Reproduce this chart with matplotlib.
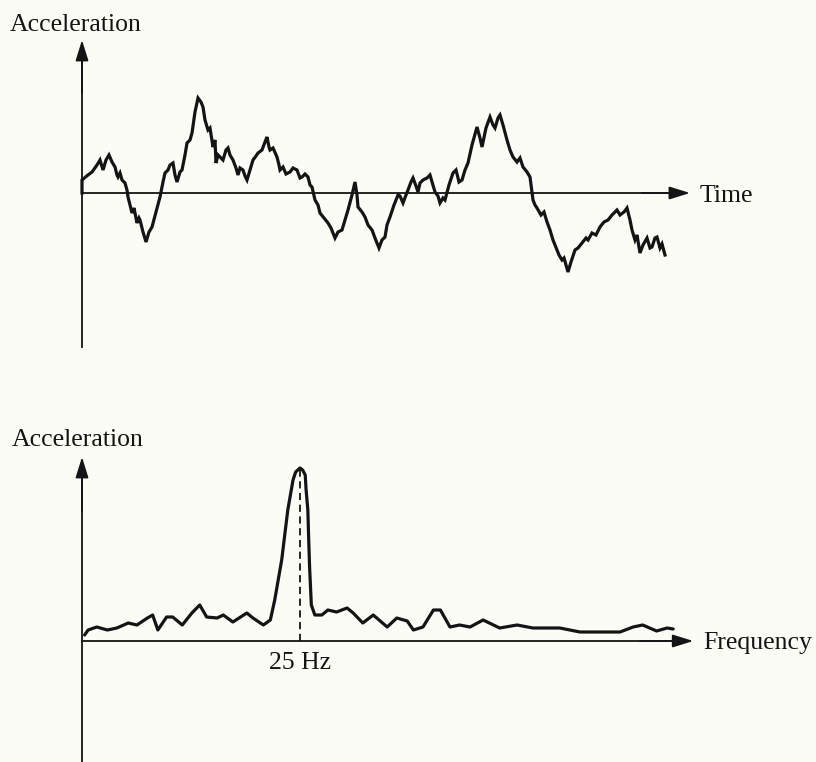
import numpy as np
import matplotlib
matplotlib.use('Agg')
import matplotlib.pyplot as plt

# =======================================
# Data
# =======================================

# --- time record (arbitrary units)
time = [0, 0, 6, 10, 15, 18, 21, 24, 27, 30, 33, 35, 36, 38, 40, 43, 45, 46, 48, 50,
        52, 55, 57, 58, 61, 64, 67, 70, 74, 78, 81, 83, 86, 88, 91, 93, 95, 98, 100, 103,
        105, 108, 110, 113, 116, 119, 121, 123, 126, 128, 131, 133, 134, 136, 138, 141, 144, 146, 148, 151,
        154, 156, 158, 161, 163, 165, 168, 171, 174, 176, 180, 183, 185, 187, 188, 191, 195, 197, 198, 201,
        204, 208, 211, 215, 218, 220, 223, 226, 228, 230, 233, 236, 238, 242, 246, 249, 253, 256, 260, 263,
        266, 270, 273, 275, 276, 280, 283, 286, 290, 293, 297, 300, 303, 305, 308, 312, 316, 318, 321, 324,
        326, 329, 331, 334, 336, 338, 341, 345, 348, 351, 353, 356, 358, 361, 363, 367, 371, 374, 377, 380,
        383, 386, 390, 395, 398, 400, 404, 408, 411, 413, 416, 418, 421, 425, 428, 431, 435, 438, 441, 445,
        448, 451, 453, 455, 459, 462, 465, 468, 471, 475, 477, 480, 482, 486, 489, 493, 496, 500, 504, 506,
        510, 514, 518, 522, 526, 530, 535, 538, 542, 545, 548, 550, 553, 555, 558, 561, 565, 568, 570, 573,
        575, 578, 580, 583]
acc_time = [0, 13, 18, 21, 28, 33, 23, 33, 38, 31, 26, 18, 16, 20, 13, 10, 3, -4, -12, -20,
            -15, -30, -25, -27, -39, -49, -39, -34, -19, -4, 11, 20, 23, 28, 30, 18, 11, 21, 23, 38,
            50, 53, 60, 81, 95, 91, 86, 73, 63, 65, 46, 53, 30, 38, 36, 33, 43, 45, 38, 33,
            25, 18, 25, 23, 17, 13, 23, 33, 37, 40, 43, 51, 56, 46, 43, 45, 36, 28, 23, 26,
            19, 21, 25, 23, 15, 16, 19, 16, 8, 6, -7, -12, -20, -25, -30, -35, -45, -39, -37, -27,
            -17, -2, 11, -2, -14, -19, -24, -32, -37, -45, -55, -47, -44, -32, -24, -12, -2, -3, -10, -2,
            3, 11, 15, 7, 1, 10, 13, 15, 18, 8, 1, -3, -10, -5, -7, 8, 20, 23, 11, 13,
            23, 30, 48, 66, 55, 46, 65, 76, 68, 65, 75, 78, 68, 53, 43, 36, 31, 35, 26, 21,
            16, -7, -12, -15, -22, -19, -29, -37, -47, -57, -62, -67, -65, -79, -69, -57, -55, -50, -45, -47,
            -40, -42, -34, -29, -27, -22, -17, -22, -19, -15, -27, -37, -47, -42, -60, -52, -45, -55, -54, -45,
            -44, -55, -51, -62]

# --- spectrum (Hz)
freq = [0.3, 0.7, 1.7, 2.9, 4.0, 5.3, 6.3, 7.5, 8.1, 8.7, 9.7, 10.4, 11.5, 12.6, 13.5, 14.3,
        15.5, 16.2, 17.3, 18.9, 19.6, 20.8, 21.6, 22.1, 22.9, 23.6, 23.9, 24.2, 24.5, 25.0,
        25.3, 25.6, 25.7, 25.9, 26.0, 26.1, 26.3, 26.7, 27.5, 28.2, 29.2, 30.4, 31.1, 32.2,
        33.4, 35.0, 36.1, 37.3, 38.0, 39.1, 40.3, 41.1, 42.2, 43.3, 44.5, 46.0, 47.9, 49.9,
        51.7, 54.8, 57.1, 59.4, 61.7, 63.2, 64.3, 65.9, 67.1, 67.8]
acc_freq = [6, 11, 14, 11, 13, 18, 16, 23, 26, 11, 24, 24, 16, 28, 36, 24,
            23, 26, 19, 28, 23, 16, 21, 41, 81, 131, 146, 161, 169, 173,
            171, 166, 151, 131, 101, 74, 36, 26, 26, 31, 29, 33, 28, 18,
            26, 14, 23, 20, 11, 14, 31, 31, 14, 16, 14, 21, 13, 16,
            13, 13, 9, 9, 9, 14, 16, 10, 13, 12]

peak_freq = 25
peak_label = '25 Hz'

# =======================================
# Style
# =======================================
BG = '#fcfcf6'
INK = '#141414'
plt.rcParams['font.family'] = ['Liberation Serif', 'DejaVu Serif']
FS = 18.5

fig = plt.figure(figsize=(8.16, 7.62), dpi=100, facecolor=BG)

arrow_kw = dict(arrowstyle='-|>,head_length=0.9,head_width=0.28', color=INK,
                lw=1.3, shrinkA=0, shrinkB=0, mutation_scale=14)

# ------ top: acceleration vs time
ax1 = fig.add_axes([0, 0.5, 1, 0.5])
ax1.set_xlim(-82, 734)
ax1.set_ylim(-188, 193)
ax1.axis('off')

ax1.plot([0, 0], [-154, 140], color=INK, lw=1.3)
ax1.annotate('', xy=(0, 153), xytext=(0, 100), arrowprops=arrow_kw)
ax1.plot([0, 595], [0, 0], color=INK, lw=1.3)
ax1.annotate('', xy=(608, 0), xytext=(560, 0), arrowprops=arrow_kw)
ax1.plot(time, acc_time, color=INK, lw=2.3, solid_joinstyle='miter', zorder=3)

ax1.text(-72, 168, 'Acceleration', fontsize=FS, color=INK, ha='left', va='center')
ax1.text(618, -3, 'Time', fontsize=FS, color=INK, ha='left', va='center')

# ------ bottom: acceleration vs frequency
ax2 = fig.add_axes([0, 0, 1, 0.5])
ax2.set_xlim(-82 / 8.72, 734 / 8.72)
ax2.set_ylim(-121, 260)
ax2.axis('off')

ax2.plot([0, 0], [-121, 170], color=INK, lw=1.3)
ax2.annotate('', xy=(0, 184), xytext=(0, 130), arrowprops=arrow_kw)
ax2.plot([0, 68.5], [0, 0], color=INK, lw=1.3)
ax2.annotate('', xy=(70.1, 0), xytext=(64, 0), arrowprops=arrow_kw)
ax2.plot(freq, acc_freq, color=INK, lw=2.3, solid_joinstyle='round',
         solid_capstyle='round', zorder=3)
ax2.vlines(peak_freq, 0, max(acc_freq), color=INK, lw=1.3, linestyles=(0, (4, 2.5)))

ax2.text(-8.0, 201, 'Acceleration', fontsize=FS, color=INK, ha='left', va='center')
ax2.text(71.2, -2, 'Frequency', fontsize=FS, color=INK, ha='left', va='center')
ax2.text(peak_freq, -22, peak_label, fontsize=FS, color=INK, ha='center', va='center')

fig.savefig('out.png', dpi=100, facecolor=BG)
